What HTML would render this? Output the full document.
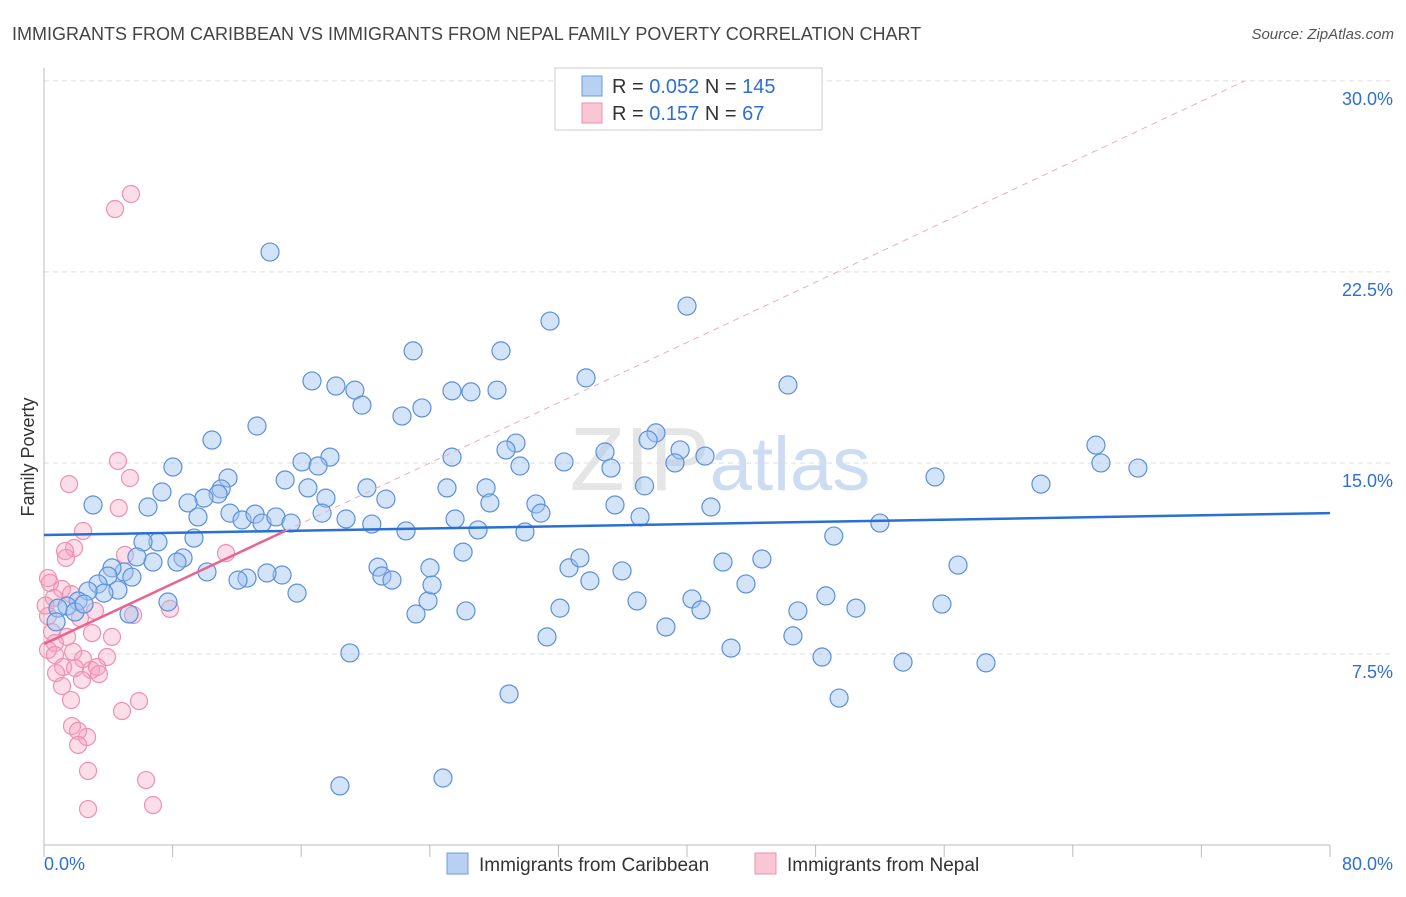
<!DOCTYPE html>
<html><head><meta charset="utf-8"><style>
body{margin:0;background:#fff;font-family:"Liberation Sans",sans-serif;}
svg text{font-family:"Liberation Sans",sans-serif;}
</style></head><body>
<svg id="chart" width="1406" height="892" xmlns="http://www.w3.org/2000/svg">
<text x="12" y="40" font-size="18" fill="#444">IMMIGRANTS FROM CARIBBEAN VS IMMIGRANTS FROM NEPAL FAMILY POVERTY CORRELATION CHART</text>
<text x="1394" y="39" font-size="15" fill="#555" text-anchor="end" font-style="italic">Source: ZipAtlas.com</text>
<text transform="translate(34,457) rotate(-90)" font-size="18" fill="#333" text-anchor="middle">Family Poverty</text>
<text x="720" y="490" font-size="90" fill="#ccc" opacity="0.5" text-anchor="middle" font-family="Liberation Serif">ZIP<tspan fill="#9bbbe8" font-family="Liberation Sans" font-size="76">atlas</tspan></text>
<g id="grid"></g><g id="axes"></g><g id="marks"></g>
<g>
<rect x="555" y="68" width="267" height="62" fill="#fff" stroke="#ccc"/>
<rect x="582" y="76" width="20" height="20" fill="#b8d1f3" stroke="#6a9be0"/>
<rect x="582" y="103" width="20" height="20" fill="#f9c6d4" stroke="#ee8fae"/>
<text x="612" y="93" font-size="20" fill="#333">R = <tspan fill="#2e6fd6">0.052</tspan>   N = <tspan fill="#2e6fd6">145</tspan></text>
<text x="612" y="120" font-size="20" fill="#333">R =  <tspan fill="#2e6fd6">0.157</tspan>   N =   <tspan fill="#2e6fd6">67</tspan></text>
</g>
<g>
<rect x="447" y="853" width="21" height="21" fill="#b8d1f3" stroke="#6a9be0"/>
<text x="479" y="871" font-size="19" fill="#333">Immigrants from Caribbean</text>
<rect x="755" y="853" width="21" height="21" fill="#f9c6d4" stroke="#ee8fae"/>
<text x="787" y="871" font-size="19" fill="#333">Immigrants from Nepal</text>
</g>
</svg>
<script>
const yTicks=[7.5,15,22.5,30];
const yTickLabels=["7.5%","15.0%","22.5%","30.0%"];
const xTickCount=10;
const blueX=[14.06,40.0,31.48,22.96,28.43,33.72,16.67,18.16,19.34,25.38,26.56,28.18,46.28,19.78,22.27,23.51,13.25,10.45,29.36,38.07,37.58,34.90,39.57,41.12,65.44,65.75,68.05,55.43,62.02,25.38,28.74,29.61,32.35,35.27,39.25,37.36,16.05,17.79,17.05,15.0,8.02,11.45,11.02,10.83,9.95,8.96,7.34,6.47,3.05,9.58,11.57,12.32,13.13,13.56,14.43,15.37,16.42,17.54,17.30,18.79,20.09,21.27,20.39,22.52,25.07,25.57,27.50,27.74,27.0,30.6,30.91,29.92,35.52,37.08,41.49,52.0,49.13,44.66,42.24,56.86,43.67,48.64,40.31,40.87,46.90,50.51,55.86,36.89,38.69,32.10,31.29,26.25,23.14,23.89,24.14,24.01,26.07,32.66,33.34,33.96,35.96,20.78,21.02,21.65,15.74,14.81,13.87,12.63,12.07,10.14,8.65,8.27,9.33,7.09,6.16,6.78,5.78,4.98,4.23,5.47,3.98,3.36,4.60,3.73,2.74,2.12,1.43,0.87,1.93,2.49,0.75,5.29,7.71,19.03,42.74,46.59,48.40,53.44,58.60,49.46,28.93,18.41,24.82];
const blueY=[23.28,21.16,20.57,19.40,19.40,18.34,18.22,18.02,17.86,17.83,17.79,17.86,18.06,17.27,16.84,17.16,16.45,15.90,15.78,16.18,15.90,15.43,15.51,15.27,15.70,15.00,14.80,14.45,14.17,15.23,15.51,14.88,15.04,14.80,15.00,14.10,15.04,15.23,14.88,14.33,14.84,14.41,13.98,13.78,13.62,13.43,13.86,13.27,13.35,12.88,13.03,12.76,12.99,12.64,12.88,12.64,14.02,13.62,13.03,12.80,14.02,13.58,12.60,12.33,14.02,12.80,14.02,13.43,12.37,13.39,13.03,12.29,13.35,12.88,13.27,12.64,12.13,11.23,11.11,10.99,10.25,9.78,9.66,9.23,9.19,9.30,9.46,9.58,8.56,9.30,8.17,9.19,9.07,9.58,10.21,10.88,11.50,10.88,11.27,10.37,10.76,10.91,10.56,10.40,9.89,10.60,10.68,10.48,10.40,10.72,11.27,11.11,12.05,11.90,11.90,11.11,11.31,10.72,10.88,10.52,10.56,10.25,10.01,9.89,9.97,9.58,9.38,9.30,9.15,9.46,8.76,9.07,9.54,7.54,7.73,8.21,7.38,7.18,7.15,5.77,5.93,2.32,2.63];
const pinkX=[5.41,4.42,4.60,5.35,1.56,4.65,2.43,1.87,1.31,1.37,5.04,11.32,0.25,0.37,1.12,0.62,1.68,3.17,2.24,5.54,7.84,0.25,0.50,1.43,0.68,2.99,4.23,0.25,0.68,1.81,2.43,3.92,1.19,1.93,2.93,3.30,0.75,2.36,1.12,1.68,3.42,5.91,4.85,1.74,2.12,2.68,2.12,2.74,6.35,2.74,6.78,0.1];
const pinkY=[25.56,24.97,15.08,14.41,14.17,13.23,12.33,11.66,11.54,11.27,11.39,11.46,10.48,10.29,10.05,9.70,9.85,9.19,8.91,9.03,9.27,8.99,8.36,8.17,7.93,8.32,8.17,7.66,7.46,7.58,7.30,7.38,6.99,6.95,6.87,6.99,6.75,6.48,6.24,5.69,6.71,5.65,5.26,4.67,4.48,4.24,3.93,2.91,2.55,1.41,1.57,9.4];
const blueTrend=[12.17,13.03];
const pinkTrend=[7.89,0.296];
const NS="http://www.w3.org/2000/svg";
const X0=44,X1=1330,Y0=845,PXY=25.47;
const sx=v=>X0+v*(X1-X0)/80, sy=v=>Y0-v*PXY;
function mk(tag,attrs,parent){const e=document.createElementNS(NS,tag);for(const k in attrs)e.setAttribute(k,attrs[k]);document.getElementById(parent).appendChild(e);return e;}
yTicks.forEach((t,i)=>{
 const g=mk('line',{x1:X0,x2:1394,y1:sy(t),y2:sy(t),stroke:'#ddd','stroke-dasharray':'5,4'},'grid');
 
 
 const l=mk('text',{x:1393,y:sy(t)+24,'font-size':18,fill:'#2e6fd6','text-anchor':'end'},'axes');
 l.textContent=yTickLabels[i];
 
 
});
const ax=mk('line',{x1:X0,x2:X1,y1:Y0,y2:Y0,stroke:'#bbb'},'axes');


const ay=mk('line',{x1:X0,x2:X0,y1:68,y2:Y0,stroke:'#bbb'},'axes');


for(let i=0;i<=xTickCount;i++){const t=mk('line',{x1:sx(i*8),x2:sx(i*8),y1:Y0,y2:Y0+12,stroke:'#bbb'},'axes');
 
 }
const xl=mk('text',{x:44,y:870,'font-size':18,fill:'#2e6fd6'},'axes');xl.textContent='0.0%';


const xr=mk('text',{x:1393,y:870,'font-size':18,fill:'#2e6fd6','text-anchor':'end'},'axes');xr.textContent='80.0%';


pinkX.forEach((x,i)=>{const c=mk('circle',{cx:sx(x),cy:sy(pinkY[i]),r:8.5,fill:'rgba(245,160,190,0.35)',stroke:'#ef90b0','stroke-width':1.2},'marks');
 
 });
blueX.forEach((x,i)=>{const c=mk('circle',{cx:sx(x),cy:sy(blueY[i]),r:9,fill:'rgba(160,195,240,0.45)',stroke:'#5b8fdc','stroke-width':1.2},'marks');
 
 });
const bt=mk('line',{x1:sx(0),y1:sy(blueTrend[0]),x2:sx(80),y2:sy(blueTrend[1]),stroke:'#2a6fd4','stroke-width':2.5},'marks');


const pEnd=(30-pinkTrend[0])/pinkTrend[1];
const pd=mk('line',{x1:sx(15),y1:sy(pinkTrend[0]+15*pinkTrend[1]),x2:sx(pEnd),y2:sy(30),stroke:'#eeaac0','stroke-width':1,'stroke-dasharray':'6,5'},'marks');


const pt=mk('line',{x1:sx(0),y1:sy(pinkTrend[0]),x2:sx(15),y2:sy(pinkTrend[0]+15*pinkTrend[1]),stroke:'#e8648e','stroke-width':2.5},'marks');


</script>
</body></html>
